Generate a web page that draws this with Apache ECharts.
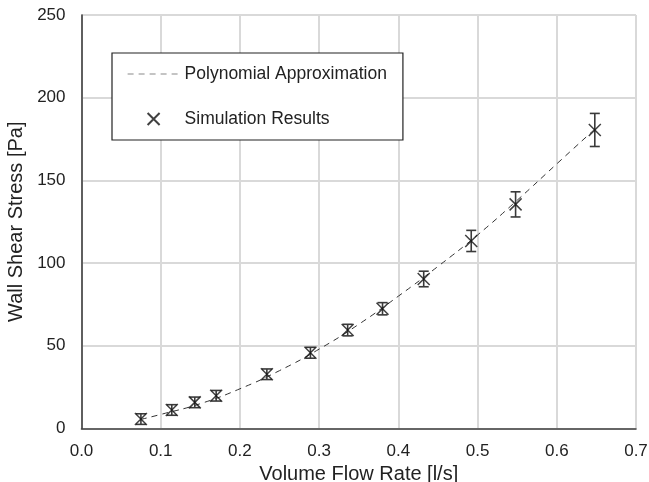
<!DOCTYPE html>
<html>
<head>
<meta charset="utf-8">
<script src="https://cdn.jsdelivr.net/npm/echarts@6/dist/echarts.min.js"></script>
<style>
  html, body { margin: 0; padding: 0; background: #fff; }
  #chart { width: 649px; height: 482px; }
</style>
</head>
<body>
<div id="chart"></div>
<script>
// simulation results (flow rate l/s, wall shear stress Pa, error +/- Pa)
const flowRate = [0.075, 0.114, 0.143, 0.170, 0.234, 0.289, 0.336, 0.380, 0.432, 0.492, 0.548, 0.648]
const shearStress = [5.7, 11.2, 15.8, 19.8, 32.8, 45.8, 59.5, 72.4, 90.4, 113.4, 135.5, 180.5]
const shearError = [3.2, 3.2, 3.2, 3.2, 3.2, 3.3, 3.5, 3.7, 4.7, 6.4, 7.6, 10]

// polynomial approximation
const polyX = [0.075, 0.1, 0.15, 0.2, 0.25, 0.3, 0.35, 0.4, 0.45, 0.5, 0.55, 0.6, 0.648]
const polyY = [5.5, 8.5, 15, 24, 35, 48, 63, 80, 98, 117, 138, 160, 181]

const chart = echarts.init(document.getElementById('chart'))
const font = 'Liberation Sans, Arial, sans-serif'

const option = {
  animation: false,
  backgroundColor: '#fff',
  textStyle: { fontFamily: font },
  grid: { left: 81.5, right: 13, top: 15, bottom: 53.5, outerBoundsMode: 'none' },
  legend: {
    orient: 'vertical',
    left: 112,
    top: 53,
    padding: [12, 16, 12, 15],
    itemGap: 27,
    itemWidth: 52,
    itemHeight: 12,
    borderColor: '#222',
    borderWidth: 1.2,
    backgroundColor: '#fff',
    textStyle: { fontSize: 17.5, color: '#222', fontFamily: font },
    data: [
      {
        name: 'Polynomial Approximation',
        itemStyle: { opacity: 0 },
        lineStyle: { color: '#8a8a8a', width: 1.2, type: [6, 5] }
      },
      { name: 'Simulation Results' }
    ]
  },
  xAxis: {
    type: 'value',
    min: 0,
    max: 0.7,
    interval: 0.1,
    name: 'Volume Flow Rate [l/s]',
    nameLocation: 'middle',
    nameGap: 32,
    nameTextStyle: { fontSize: 20, color: '#222' },
    axisLine: { lineStyle: { color: '#404040', width: 1.6 } },
    axisTick: { show: false },
    axisLabel: { fontSize: 17, color: '#222', margin: 14, formatter: v => v.toFixed(1) },
    splitLine: { lineStyle: { color: '#d9d9d9', width: 2 } }
  },
  yAxis: {
    type: 'value',
    min: 0,
    max: 250,
    interval: 50,
    name: 'Wall Shear Stress [Pa]',
    nameLocation: 'middle',
    nameGap: 48,
    nameTextStyle: { fontSize: 20, color: '#222' },
    axisLine: { show: true, lineStyle: { color: '#404040', width: 1.6 } },
    axisTick: { show: false },
    axisLabel: { fontSize: 17, color: '#222', margin: 16 },
    splitLine: { lineStyle: { color: '#d9d9d9', width: 2 } }
  },
  series: [
    {
      name: 'Polynomial Approximation',
      type: 'line',
      smooth: true,
      symbol: 'none',
      data: polyX.map((x, i) => [x, polyY[i]]),
      lineStyle: { color: '#333', width: 1, type: [6, 5] },
      itemStyle: { color: '#333' },
      z: 3
    },
    {
      name: 'Error',
      type: 'custom',
      data: flowRate.map((x, i) => [x, shearStress[i] - shearError[i], shearStress[i] + shearError[i]]),
      renderItem: (params, api) => {
        const lo = api.coord([api.value(0), api.value(1)])
        const hi = api.coord([api.value(0), api.value(2)])
        const w = 5
        const style = { stroke: '#3a3a3a', lineWidth: 1.6 }
        return {
          type: 'group',
          children: [
            { type: 'line', shape: { x1: lo[0], y1: lo[1], x2: hi[0], y2: hi[1] }, style },
            { type: 'line', shape: { x1: lo[0] - w, y1: lo[1], x2: lo[0] + w, y2: lo[1] }, style },
            { type: 'line', shape: { x1: hi[0] - w, y1: hi[1], x2: hi[0] + w, y2: hi[1] }, style }
          ]
        }
      },
      z: 4
    },
    {
      name: 'Simulation Results',
      type: 'scatter',
      symbol: 'path://M0,0L10,10M10,0L0,10',
      symbolSize: 12,
      data: flowRate.map((x, i) => [x, shearStress[i]]),
      itemStyle: { color: 'rgba(0,0,0,0)', borderColor: '#111', borderWidth: 1.5 },
      z: 5
    }
  ]
}

chart.setOption(option)
</script>
</body>
</html>
